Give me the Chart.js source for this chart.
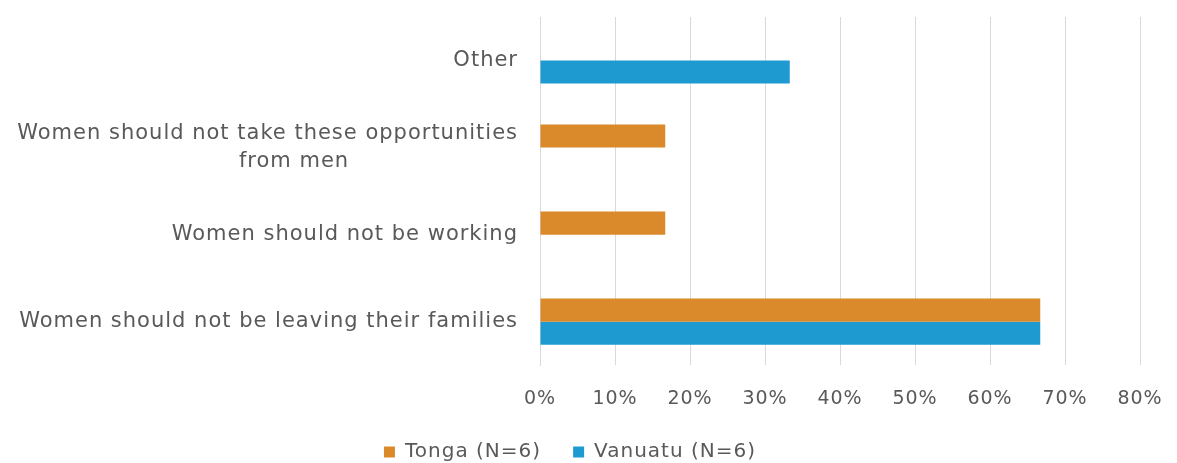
<!DOCTYPE html>
<html>
<head>
<meta charset="utf-8">
<script src="https://cdn.jsdelivr.net/npm/chart.js@4/dist/chart.umd.min.js"></script>
<style>
    html, body { margin: 0; padding: 0; background: #fff; }
    #wrap { width: 1177px; height: 463px; }
</style>
</head>
<body>
<div id="wrap"><canvas id="reasonsChart" width="1177" height="463"></canvas></div>
<script>
// Data
const categories = [
    'Other',
    ['Women should not take these opportunities', 'from men' + '\u00a0'.repeat(22)],
    'Women should not be working',
    'Women should not be leaving their families'
];
const tongaValues = [0, 16.7, 16.7, 66.7];
const vanuatuValues = [33.3, 0, 0, 66.7];
const tickValues = [0, 10, 20, 30, 40, 50, 60, 70, 80];

const textColor = '#595959';
const fontFamily = "'DejaVu Sans', sans-serif";

// wide text like the original font
const spacingPlugin = {
    id: 'letterSpacing',
    beforeUpdate: (chart) => { chart.ctx.letterSpacing = '1px'; },
    beforeDraw: (chart) => { chart.ctx.letterSpacing = '1px'; }
};

const ctx = document.getElementById('reasonsChart').getContext('2d');
const reasonsChart = new Chart(ctx, {
    type: 'bar',
    data: {
        labels: categories,
        datasets: [
            {
                label: 'Tonga (N=6)',
                data: tongaValues,
                backgroundColor: '#DA8A2B',
                barPercentage: 1,
                categoryPercentage: 0.53
            },
            {
                label: 'Vanuatu (N=6)',
                data: vanuatuValues,
                backgroundColor: '#1F9AD0',
                barPercentage: 1,
                categoryPercentage: 0.53
            }
        ]
    },
    options: {
        indexAxis: 'y',
        responsive: false,
        animation: false,
        layout: {
            padding: { top: 17, right: 37, bottom: -9, left: 0 }
        },
        scales: {
            x: {
                min: 0,
                max: 80,
                afterBuildTicks: (scale) => {
                    scale.ticks = tickValues.map(v => ({ value: v }));
                },
                afterFit: (scale) => {
                    scale.paddingLeft = 0;
                    scale.paddingRight = 0;
                },
                ticks: {
                    color: textColor,
                    font: { family: fontFamily, size: 19 },
                    padding: 22,
                    callback: (v) => v + '%'
                },
                grid: {
                    color: '#d9d9d9',
                    drawTicks: false
                },
                border: { display: false }
            },
            y: {
                afterFit: (scale) => {
                    scale.width = 540;
                    scale.paddingTop = 0;
                    scale.paddingBottom = 0;
                },
                ticks: {
                    color: textColor,
                    font: { family: fontFamily, size: 21, lineHeight: 1.3 },
                    padding: 22
                },
                grid: { display: false, drawTicks: false },
                border: { display: true, color: '#d9d9d9' }
            }
        },
        plugins: {
            legend: {
                position: 'bottom',
                labels: {
                    color: textColor,
                    font: { family: fontFamily, size: 20 },
                    boxWidth: 11,
                    boxHeight: 11,
                    padding: 10,
                    generateLabels: (chart) => {
                        const items = Chart.defaults.plugins.legend.labels.generateLabels(chart);
                        items.forEach((item, i) => {
                            if (i < items.length - 1) item.text += '\u00a0\u00a0\u00a0';
                        });
                        return items;
                    }
                }
            },
            tooltip: { enabled: false }
        }
    },
    plugins: [spacingPlugin]
});
</script>
</body>
</html>
